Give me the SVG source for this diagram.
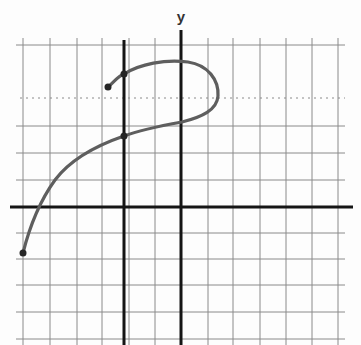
<svg xmlns="http://www.w3.org/2000/svg" width="361" height="345" viewBox="0 0 361 345">
<style>
.grid line{stroke:#8a8a8a;stroke-width:1}
.faint{stroke:#d6d6d6;stroke-width:1;stroke-dasharray:2 4}
.axis{stroke:#151515;stroke-width:3}
.curve{fill:none;stroke:#5e5e5e;stroke-width:3.2;stroke-linecap:round}
.dot{fill:#262626}
text{font-family:"Liberation Sans",Arial,sans-serif;font-size:15px;font-weight:bold;fill:#333}
</style>
<rect width="361" height="345" fill="#fdfdfd"/>
<g id="grid" class="grid">
<line x1="16" y1="45" x2="345" y2="45"/>
<line x1="16" y1="126" x2="345" y2="126"/>
<line x1="16" y1="153" x2="345" y2="153"/>
<line x1="16" y1="180" x2="345" y2="180"/>
<line x1="16" y1="233" x2="345" y2="233"/>
<line x1="16" y1="259" x2="345" y2="259"/>
<line x1="16" y1="285" x2="345" y2="285"/>
<line x1="16" y1="312" x2="345" y2="312"/>
<line x1="16" y1="339" x2="345" y2="339"/>
<line x1="23" y1="38" x2="23" y2="345"/>
<line x1="50" y1="38" x2="50" y2="345"/>
<line x1="77" y1="38" x2="77" y2="345"/>
<line x1="102" y1="38" x2="102" y2="345"/>
<line x1="129" y1="38" x2="129" y2="345"/>
<line x1="155" y1="38" x2="155" y2="345"/>
<line x1="208" y1="38" x2="208" y2="345"/>
<line x1="233" y1="38" x2="233" y2="345"/>
<line x1="260" y1="38" x2="260" y2="345"/>
<line x1="286" y1="38" x2="286" y2="345"/>
<line x1="312" y1="38" x2="312" y2="345"/>
<line x1="338" y1="38" x2="338" y2="345"/>
<line class="faint" x1="20" y1="98" x2="345" y2="98"/>
</g>
<g id="axes">
<line class="axis" x1="10" y1="207" x2="353" y2="207"/>
<line class="axis" x1="181" y1="30" x2="181" y2="345"/>
<line class="axis" x1="124" y1="40" x2="124" y2="345"/>
<text x="181" y="22" text-anchor="middle">y</text>
</g>
<g id="curve">
<path class="curve" d="M108,87 C114,82 118,76 124,74 C140,64 165,59 188,62 C208,65 219,80 218,96 C217,110 202,117 182,122 C160,126 140,130 124,136 C95,146 70,160 55,180 C42,198 30,225 23,253"/>
<circle class="dot" cx="108" cy="87" r="3.5"/>
<circle class="dot" cx="124" cy="74" r="3.5"/>
<circle class="dot" cx="124" cy="136" r="3.5"/>
<circle class="dot" cx="23" cy="253" r="3.5"/>
</g>
</svg>
